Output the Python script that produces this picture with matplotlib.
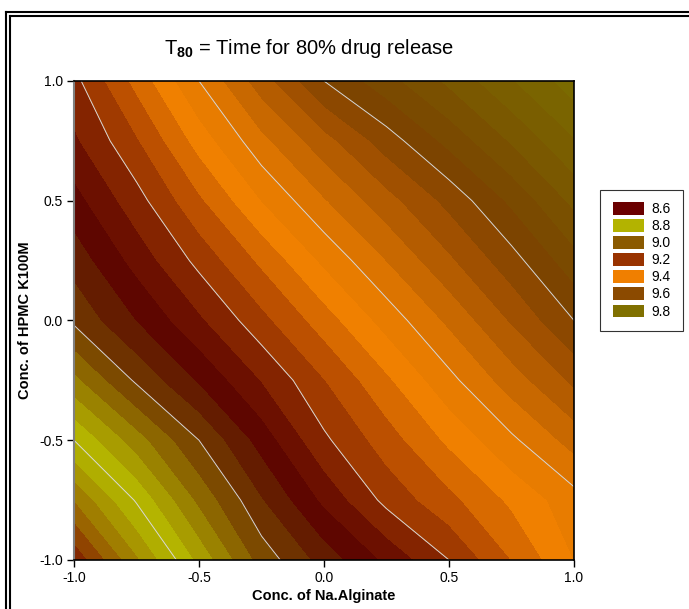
import numpy as np
import matplotlib.pyplot as plt
from matplotlib.patches import Patch
from matplotlib.lines import Line2D

plt.rcParams['font.family'] = ['Liberation Sans', 'DejaVu Sans']
plt.rcParams['mathtext.fontset'] = 'custom'
plt.rcParams['mathtext.rm'] = 'Liberation Sans'
plt.rcParams['mathtext.bf'] = 'Liberation Sans:bold'

# coded factor levels
na_alginate = [-1.0, -0.75, -0.5, -0.25, 0.0, 0.25, 0.5, 0.75, 1.0]
hpmc_k100m = [-1.0, -0.75, -0.5, -0.25, 0.0, 0.25, 0.5, 0.75, 1.0]

# T80 (h), one row per HPMC level, columns follow Na.Alginate
t80 = [
    [8.368, 8.512, 8.650, 8.776, 8.856, 8.928, 9.000, 9.080, 9.160],
    [8.480, 8.605, 8.728, 8.836, 8.928, 9.012, 9.068, 9.128, 9.184],
    [8.600, 8.700, 8.800, 8.896, 8.992, 9.060, 9.128, 9.192, 9.256],
    [8.708, 8.807, 8.884, 8.961, 9.038, 9.112, 9.188, 9.260, 9.328],
    [8.808, 8.880, 8.952, 9.027, 9.100, 9.176, 9.248, 9.324, 9.400],
    [8.856, 8.934, 9.012, 9.088, 9.168, 9.240, 9.312, 9.384, 9.464],
    [8.904, 8.984, 9.072, 9.160, 9.236, 9.304, 9.372, 9.448, 9.530],
    [8.952, 9.035, 9.136, 9.228, 9.304, 9.380, 9.452, 9.524, 9.596],
    [8.988, 9.092, 9.200, 9.300, 9.400, 9.464, 9.528, 9.596, 9.660],
]

fill_levels = np.round(np.arange(8.36, 9.6801, 0.04), 2)
line_levels = [8.6, 8.8, 9.0, 9.2, 9.4]

band_colors = [
    '#842800', '#904400', '#9a6400', '#a07e00', '#a89600', '#b0ae00',
    '#b4b400', '#a89c00', '#9a8200', '#8c6600', '#7c4a00',
    '#6e3200', '#641c00', '#5e0600', '#6c1000', '#842400',
    '#a03a00', '#bc5000', '#d86a00', '#f08000', '#e87c00',
    '#dc7400', '#c86800', '#b45c00', '#a05000', '#8c4800',
    '#7c4400', '#7a4a00', '#7a5000', '#7a5800', '#7a5e00', '#7a6400', '#7a6a00',
]

legend_levels = ['8.6', '8.8', '9.0', '9.2', '9.4', '9.6', '9.8']
legend_colors = ['#6b0000', '#b3b300', '#8b5a00', '#993300', '#f07f00', '#8b4a00', '#807000']

X, Y = np.meshgrid(na_alginate, hpmc_k100m)
Z = np.array(t80)

fig = plt.figure(figsize=(6.89, 6.09), dpi=100)
ax = fig.add_axes([0.1074, 0.0805, 0.7257, 0.7865])

ax.contourf(X, Y, Z, levels=fill_levels, colors=band_colors, antialiased=False)
ax.contour(X, Y, Z, levels=line_levels, colors='#d8d8d8', linewidths=0.7)

ax.set_xlim(-1, 1)
ax.set_ylim(-1, 1)
ax.set_xticks([-1.0, -0.5, 0.0, 0.5, 1.0])
ax.set_yticks([-1.0, -0.5, 0.0, 0.5, 1.0])
ax.set_xticklabels(['-1.0', '-0.5', '0.0', '0.5', '1.0'])
ax.set_yticklabels(['-1.0', '-0.5', '0.0', '0.5', '1.0'])
ax.tick_params(direction='out', length=5, width=1, labelsize=10, pad=3)
for s in ['top', 'right', 'bottom']:
    ax.spines[s].set_linewidth(1.2)
ax.spines['left'].set_color('#808080')
ax.spines['left'].set_linewidth(1.5)

ax.set_xlabel('Conc. of Na.Alginate', fontsize=10.5, fontweight='bold', labelpad=3)
ax.set_ylabel('Conc. of HPMC K100M', fontsize=10.5, fontweight='bold', labelpad=5)
fig.text(309 / 689, 1 - 48 / 609, r'T$_{\mathbf{80}}$ = Time for 80% drug release',
         fontsize=14.5, ha='center', va='center')

handles = [Patch(facecolor=c, edgecolor='none') for c in legend_colors]
leg = fig.legend(handles, legend_levels, loc='lower left', bbox_to_anchor=(600 / 689, 1 - 331 / 609),
                 fontsize=10, frameon=True, fancybox=False, edgecolor='black',
                 handlelength=2.3, handleheight=1.0, labelspacing=0.22,
                 handletextpad=0.5, borderpad=0.9, borderaxespad=0)
leg.get_frame().set_linewidth(0.8)

# double frame along the left and top of the page
H, W = 609, 689
for off in (6, 10):
    fig.add_artist(Line2D([off / W, off / W], [0, 1 - (off + 6) / H], color='black', lw=1.5,
                          transform=fig.transFigure))
    fig.add_artist(Line2D([off / W, 1], [1 - (off + 6) / H, 1 - (off + 6) / H], color='black', lw=1.5,
                          transform=fig.transFigure))

fig.savefig('out.png', dpi=100)
